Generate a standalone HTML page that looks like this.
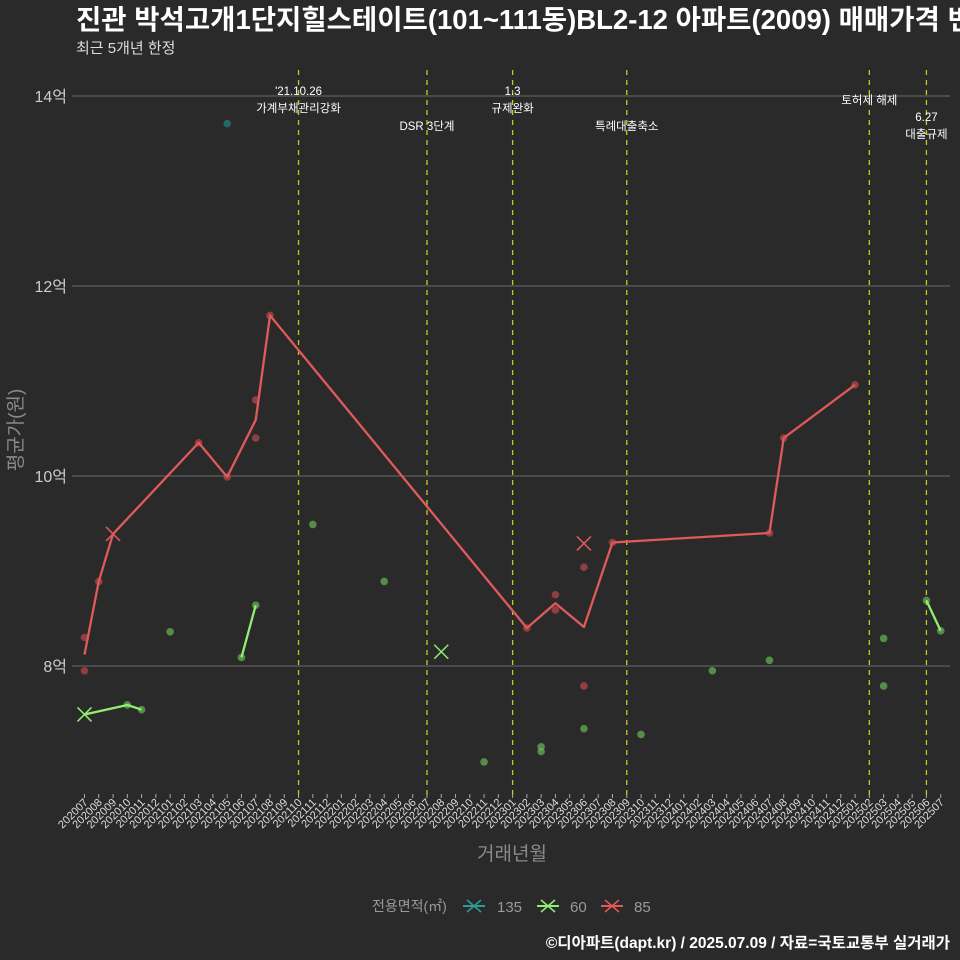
<!DOCTYPE html>
<html><head><meta charset="utf-8">
<style>
html,body{margin:0;padding:0;background:#2b2a2b;}
svg{display:block;font-family:"Liberation Sans","Noto Sans CJK KR",sans-serif;}
</style></head>
<body>
<svg id="chart" width="960" height="960" viewBox="0 0 960 960">
<rect x="0" y="0" width="960" height="960" fill="#2b2a2b"/>
<text x="76" y="29" fill="#ffffff" font-size="27.5" font-weight="bold">진관 박석고개1단지힐스테이트(101~111동)BL2-12 아파트(2009) 매매가격 변화</text>
<text x="76" y="53" fill="#dddddd" font-size="15">최근 5개년 한정</text>
<g id="grid"></g>
<g id="events"></g>
<g id="xaxis"></g>
<g id="yaxis"></g>
<g id="marks"></g>
<text x="512" y="860" fill="#8a8a8a" font-size="19" text-anchor="middle">거래년월</text>
<text transform="translate(22,430) rotate(-90)" fill="#8a8a8a" font-size="19" text-anchor="middle">평균가(원)</text>
<g>
<text x="372" y="911" fill="#9a9a9a" font-size="14">전용면적(㎡)</text>
<g><line x1="463" y1="906" x2="485" y2="906" stroke="#2a9d9a" stroke-width="2"/><path d="M467 900L481 912M467 912L481 900" stroke="#2a9d9a" stroke-width="1.5"/><text x="497" y="912" fill="#9a9a9a" font-size="15">135</text></g>
<g><line x1="537" y1="906" x2="559" y2="906" stroke="#90ee70" stroke-width="2"/><path d="M541 900L555 912M541 912L555 900" stroke="#90ee70" stroke-width="1.5"/><text x="570" y="912" fill="#9a9a9a" font-size="15">60</text></g>
<g><line x1="601" y1="906" x2="623" y2="906" stroke="#e05a5a" stroke-width="2"/><path d="M605 900L619 912M605 912L619 900" stroke="#e05a5a" stroke-width="1.5"/><text x="634" y="912" fill="#9a9a9a" font-size="15">85</text></g>
</g>
<text x="950" y="948" fill="#ffffff" font-size="15.5" font-weight="bold" text-anchor="end">©디아파트(dapt.kr) / 2025.07.09 / 자료=국토교통부 실거래가</text>
</svg>
<script>
const months = [];
for (let y = 2020; y <= 2025; y++) for (let m = 1; m <= 12; m++) { const s = y + String(m).padStart(2,'0'); if (s >= '202007' && s <= '202507') months.push(s); }
const yTicks = [8, 10, 12, 14];
const yTickLabels = ['8억', '10억', '12억', '14억'];
const eventMonths = ['202110', '202207', '202301', '202309', '202502', '202506'];
const eventLabels = [["'21.10.26", '가계부채관리강화'], ['DSR 3단계'], ['1.3', '규제완화'], ['특례대출축소'], ['토허제 해제'], ['6.27', '대출규제']];
const eventLabelY = [[95, 112], [130], [95, 112], [130], [104], [121, 138]];
// series 85 line
const line85Months = ['202007','202008','202009','202103','202105','202107','202108','202302','202304','202306','202308','202407','202408','202501'];
const line85Values = [8.12, 8.89, 9.39, 10.35, 9.99, 10.59, 11.69, 8.40, 8.66, 8.41, 9.30, 9.40, 10.40, 10.96];
const dots85Months = ['202007','202007','202008','202103','202105','202107','202107','202108','202302','202304','202304','202306','202306','202308','202407','202408','202501'];
const dots85Values = [8.30, 7.95, 8.89, 10.35, 9.99, 10.80, 10.40, 11.69, 8.40, 8.75, 8.59, 9.04, 7.79, 9.30, 9.40, 10.40, 10.96];
const x85Months = ['202009','202306'];
const x85Values = [9.39, 9.29];
// series 60
const line60aMonths = ['202007','202010','202011'];
const line60aValues = [7.49, 7.59, 7.54];
const line60bMonths = ['202106','202107'];
const line60bValues = [8.09, 8.64];
const line60cMonths = ['202506','202507'];
const line60cValues = [8.69, 8.37];
const dots60Months = ['202010','202011','202101','202106','202107','202111','202204','202211','202303','202303','202306','202310','202403','202407','202503','202503','202506','202507'];
const dots60Values = [7.59, 7.54, 8.36, 8.09, 8.64, 9.49, 8.89, 6.99, 7.15, 7.10, 7.34, 7.28, 7.95, 8.06, 8.29, 7.79, 8.69, 8.37];
const x60Months = ['202007','202208'];
const x60Values = [7.49, 8.15];
// series 135
const dots135Months = ['202105'];
const dots135Values = [13.71];

const NS = 'http://www.w3.org/2000/svg';
function xs(mo) { return 84.5 + 14.27 * months.indexOf(mo); }
function ys(v) { return 666 - (v - 8) * 95; }
function mk(tag, attrs, parent) { const e = document.createElementNS(NS, tag); for (const k in attrs) e.setAttribute(k, attrs[k]); parent.appendChild(e); return e; }

const grid = document.getElementById('grid');
const yaxis = document.getElementById('yaxis');
yTicks.forEach((t, i) => {
  const l = mk('line', {x1: 72, x2: 950, y1: ys(t), y2: ys(t), stroke: '#6a6a6a', 'stroke-width': 1}, grid);
  
  
  const tx = mk('text', {x: 67, y: ys(t) + 6, fill: '#cccccc', 'font-size': 16, 'text-anchor': 'end'}, yaxis);
  tx.textContent = yTickLabels[i];
  
  
});

const ev = document.getElementById('events');
eventMonths.forEach((mo, i) => {
  const x = xs(mo);
  const l = mk('line', {x1: x, x2: x, y1: 70, y2: 795, stroke: '#c8c820', 'stroke-width': 1.3, 'stroke-dasharray': '5,5'}, ev);
  
  
  eventLabels[i].forEach((s, j) => {
    const t = mk('text', {x: x, y: eventLabelY[i][j], fill: '#ffffff', 'font-size': 11.5, 'text-anchor': 'middle'}, ev);
    t.textContent = s;
    
    
  });
});

const xa = document.getElementById('xaxis');
months.forEach(mo => {
  const x = xs(mo);
  const l = mk('line', {x1: x, x2: x, y1: 794, y2: 798, stroke: '#aaaaaa', 'stroke-width': 1}, xa);
  
  
  const t = mk('text', {transform: `translate(${x + 4},803) rotate(-45)`, fill: '#dddddd', 'font-size': 11, 'text-anchor': 'end'}, xa);
  t.textContent = mo;
  
  
});

const marks = document.getElementById('marks');
function dots(ms, vs, color, name) {
  ms.forEach((mo, i) => {
    const c = mk('circle', {cx: xs(mo), cy: ys(vs[i]), r: 3.8, fill: color, 'fill-opacity': 0.65}, marks);
    
    
  });
}
function line(ms, vs, color, name) {
  const p = mk('polyline', {points: ms.map((mo, i) => xs(mo) + ',' + ys(vs[i])).join(' '), fill: 'none', stroke: color, 'stroke-width': 2.3, 'stroke-linejoin': 'round'}, marks);
  
  
}
function xmarks(ms, vs, color, name) {
  ms.forEach((mo, i) => {
    const x = xs(mo), y = ys(vs[i]);
    const p = mk('path', {d: `M${x-7} ${y-7}L${x+7} ${y+7}M${x-7} ${y+7}L${x+7} ${y-7}`, stroke: color, 'stroke-width': 1.5}, marks);
    
    
  });
}
dots(dots135Months, dots135Values, '#1f8a80', 'point-135');
dots(dots60Months, dots60Values, '#6cc15a', 'point-60');
dots(dots85Months, dots85Values, '#c84a4a', 'point-85');
line(line60aMonths, line60aValues, '#90ee70', 'line-60');
line(line60bMonths, line60bValues, '#90ee70', 'line-60');
line(line60cMonths, line60cValues, '#90ee70', 'line-60');
line(line85Months, line85Values, '#e05a5a', 'line-85');
xmarks(x60Months, x60Values, '#90ee70', 'x-mark-60');
xmarks(x85Months, x85Values, '#e05a5a', 'x-mark-85');
</script>
</body></html>
